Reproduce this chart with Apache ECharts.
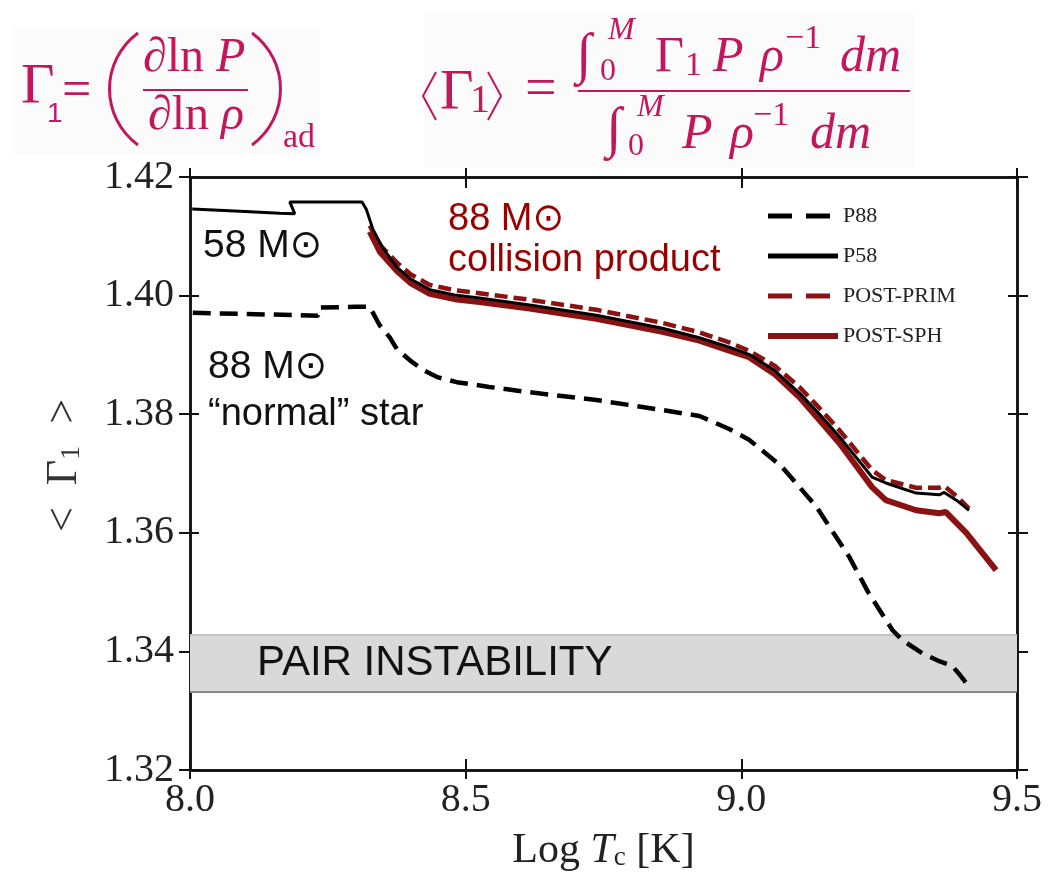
<!DOCTYPE html>
<html>
<head>
<meta charset="utf-8">
<script src="https://cdn.jsdelivr.net/npm/echarts@6/dist/echarts.min.js"></script>
<style>html,body{margin:0;background:#fff}#main{width:1048px;height:885px}</style>
</head>
<body>
<div id="main"></div>
<script>
// values: log Tc -> <Gamma_1>
var p88X = [8.005, 8.10, 8.20, 8.232, 8.235, 8.30, 8.326, 8.344, 8.362, 8.375, 8.40, 8.422, 8.45, 8.484, 8.543, 8.616, 8.737, 8.857, 8.924, 8.978, 9.014, 9.074, 9.136, 9.196, 9.23, 9.274, 9.292, 9.328, 9.36, 9.382, 9.395, 9.417];
var p88Y = [1.3971, 1.3969, 1.3967, 1.3966, 1.3980, 1.3981, 1.3981, 1.3950, 1.3930, 1.3910, 1.3890, 1.3875, 1.3862, 1.3854, 1.3846, 1.3837, 1.3824, 1.3807, 1.3797, 1.3775, 1.3757, 1.3711, 1.3644, 1.3559, 1.3500, 1.3436, 1.3419, 1.3397, 1.3383, 1.3376, 1.3362, 1.3336];

var p58X = [8.004, 8.10, 8.163, 8.190, 8.181, 8.25, 8.30, 8.312, 8.320, 8.332, 8.35, 8.375, 8.40, 8.435, 8.48, 8.525, 8.616, 8.737, 8.857, 8.924, 8.978, 9.014, 9.06, 9.105, 9.14, 9.178, 9.237, 9.262, 9.317, 9.359, 9.368, 9.39, 9.413];
var p58Y = [1.4146, 1.4142, 1.4139, 1.4138, 1.4158, 1.4158, 1.4158, 1.4158, 1.4145, 1.4111, 1.4080, 1.4048, 1.4028, 1.4010, 1.4001, 1.3996, 1.3984, 1.3967, 1.3945, 1.3929, 1.3913, 1.3901, 1.3874, 1.3836, 1.3802, 1.3762, 1.3694, 1.3684, 1.3667, 1.3664, 1.3668, 1.3655, 1.3638];

var primX = [8.326, 8.345, 8.375, 8.40, 8.435, 8.48, 8.525, 8.616, 8.737, 8.857, 8.924, 8.978, 9.014, 9.06, 9.105, 9.14, 9.178, 9.237, 9.262, 9.317, 9.359, 9.368, 9.39, 9.413];
var primY = [1.4118, 1.4085, 1.4056, 1.4036, 1.4018, 1.4009, 1.4004, 1.3993, 1.3976, 1.3954, 1.3938, 1.3921, 1.3907, 1.3882, 1.3846, 1.3812, 1.3773, 1.3706, 1.3689, 1.3676, 1.3676, 1.3679, 1.3662, 1.3641];

var sphX = [8.326, 8.345, 8.375, 8.40, 8.435, 8.48, 8.525, 8.616, 8.737, 8.857, 8.924, 8.978, 9.014, 9.06, 9.105, 9.14, 9.178, 9.237, 9.262, 9.317, 9.359, 9.371, 9.408, 9.437, 9.462];
var sphY = [1.4108, 1.4073, 1.4042, 1.4021, 1.4003, 1.3994, 1.3989, 1.3978, 1.3961, 1.3939, 1.3924, 1.3907, 1.3896, 1.3868, 1.3829, 1.3792, 1.3751, 1.3677, 1.3655, 1.3638, 1.3633, 1.3635, 1.3600, 1.3566, 1.3537];

var pairBand = [1.3332, 1.3428];
var seriesNames = ['P88', 'P58', 'POST-PRIM', 'POST-SPH'];

var red = '#8b1212';
var pink = '#c2185b';
var serif = '"Liberation Serif", "DejaVu Serif", serif';
var sans = '"Liberation Sans", "DejaVu Sans", sans-serif';

function pairs(xs, ys) {
  return xs.map(function (x, i) { return [x, ys[i]]; });
}

var chart = echarts.init(document.getElementById('main'));

function xAx(pos, inside, len, main) {
  return {
    type: 'value', position: pos, min: 8.0, max: 9.5, interval: 0.5,
    axisLine: { show: true, onZero: false, lineStyle: { color: '#111', width: 2.5 } },
    axisTick: { show: true, inside: inside, length: len, lineStyle: { color: '#111', width: 2 } },
    axisLabel: { show: main, margin: 10, fontFamily: serif, fontSize: 40, color: '#222',
      formatter: function (v) { return v.toFixed(1); } },
    splitLine: { show: false },
    name: main ? '{a|Log }{i|T}{s|c}{a| [K]}' : '',
    nameLocation: 'middle', nameGap: 60,
    nameTextStyle: { rich: {
      a: { fontFamily: serif, fontSize: 42, color: '#222' },
      i: { fontFamily: serif, fontSize: 42, fontStyle: 'italic', color: '#222' },
      s: { fontFamily: serif, fontSize: 27, color: '#222', padding: [14, 0, 0, 0] }
    } }
  };
}
function yAx(pos, inside, len, main) {
  return {
    type: 'value', position: pos, min: 1.32, max: 1.42, interval: 0.02,
    axisLine: { show: true, onZero: false, lineStyle: { color: '#111', width: 2.5 } },
    axisTick: { show: true, inside: inside, length: len, lineStyle: { color: '#111', width: 2 } },
    axisLabel: { show: main, margin: 16, fontFamily: serif, fontSize: 40, color: '#222',
      formatter: function (v) { return v.toFixed(2); } },
    splitLine: { show: false },
    name: main ? '{a|<  Γ}{s|1}{a|  >}' : '',
    nameLocation: 'middle', nameGap: 104,
    nameTextStyle: { padding: [0, 0, 0, 16], rich: {
      a: { fontFamily: serif, fontSize: 44, color: '#333' },
      s: { fontFamily: serif, fontSize: 28, color: '#333', padding: [16, 0, 0, 0] }
    } }
  };
}

function t(x, y, s, size, opt) {
  opt = opt || {};
  return { type: 'text', x: x, y: y, z: 20, style: {
    text: s, fill: opt.fill || pink, fontSize: size,
    fontFamily: opt.family || serif, fontStyle: opt.italic ? 'italic' : 'normal',
    align: 'left', verticalAlign: 'middle' } };
}
function seg(x1, y1, x2, y2, w) {
  return { type: 'line', z: 20, shape: { x1: x1, y1: y1, x2: x2, y2: y2 }, style: { stroke: pink, lineWidth: w || 2 } };
}
function curve(x1, y1, cx, x2, y2) {
  return { type: 'bezierCurve', z: 20,
    shape: { x1: x1, y1: y1, cpx1: cx, cpy1: y1 + (y2 - y1) * 0.25, cpx2: cx, cpy2: y1 + (y2 - y1) * 0.75, x2: x2, y2: y2 },
    style: { stroke: pink, lineWidth: 3, fill: null } };
}
function poly(pts) {
  return { type: 'polyline', z: 20, shape: { points: pts }, style: { stroke: pink, lineWidth: 2, fill: null } };
}

var formula = [
  { type: 'rect', z: 1, shape: { x: 12, y: 28, width: 308, height: 126 }, style: { fill: '#fbfbfb' } },
  { type: 'rect', z: 1, shape: { x: 424, y: 12, width: 490, height: 156 }, style: { fill: '#fbfbfb' } },
  // Gamma_1 = ( dlnP / dln rho )_ad
  t(21, 88, 'Γ', 58),
  t(47, 114, '1', 28, { family: sans, fill: '#c0187a' }),
  t(62, 92, '=', 52),
  curve(138, 33, 100, 138, 145),
  { type: 'text', x: 143, y: 58, z: 20, style: { text: '{i|∂}{r|ln }{i|P}', align: 'left', verticalAlign: 'middle',
    rich: { i: { fontFamily: serif, fontSize: 48, fontStyle: 'italic', fill: pink }, r: { fontFamily: serif, fontSize: 48, fill: pink } } } },
  seg(143, 90, 248, 90, 2),
  { type: 'text', x: 148, y: 116, z: 20, style: { text: '{i|∂}{r|ln }{i|ρ}', align: 'left', verticalAlign: 'middle',
    rich: { i: { fontFamily: serif, fontSize: 48, fontStyle: 'italic', fill: pink }, r: { fontFamily: serif, fontSize: 48, fill: pink } } } },
  curve(252, 33, 290, 252, 145),
  t(283, 138, 'ad', 34),
  // <Gamma_1> = int Gamma_1 P rho^-1 dm / int P rho^-1 dm
  poly([[436, 72], [423, 96], [436, 120]]),
  t(440, 94, 'Γ', 58),
  t(470, 101, '1', 40),
  poly([[488, 72], [501, 96], [488, 120]]),
  t(525, 91, '=', 56),
  seg(578, 91, 910, 91, 2),
  t(576, 57, '∫', 56, { italic: true }),
  t(608, 31, 'M', 32, { italic: true }),
  t(600, 72, '0', 32),
  t(655, 58, 'Γ', 50),
  t(685, 66, '1', 34),
  t(713, 58, 'P', 50, { italic: true }),
  t(760, 58, 'ρ', 50, { italic: true }),
  t(785, 39, '−1', 34),
  t(840, 58, 'dm', 50, { italic: true }),
  t(606, 131, '∫', 56, { italic: true }),
  t(637, 108, 'M', 32, { italic: true }),
  t(628, 147, '0', 32),
  t(682, 135, 'P', 50, { italic: true }),
  t(730, 135, 'ρ', 50, { italic: true }),
  t(753, 116, '−1', 34),
  t(810, 135, 'dm', 50, { italic: true })
];

var notes = [
  t(203, 246, '58 M⊙', 39, { family: sans, fill: '#111' }),
  t(448, 220, '88 M⊙', 38, { family: sans, fill: '#990000' }),
  t(448, 261, 'collision product', 38, { family: sans, fill: '#990000' }),
  t(208, 367, '88 M⊙', 39, { family: sans, fill: '#111' }),
  t(208, 415, '“normal” star', 38, { family: sans, fill: '#111' }),
  t(257, 663, 'PAIR INSTABILITY', 42, { family: sans, fill: '#111' })
];

var option = {
  animation: false,
  backgroundColor: '#fff',
  grid: { left: 190, right: 31, top: 177, bottom: 115 },
  xAxis: [xAx('bottom', false, 9, true), xAx('bottom', true, 11, false), xAx('top', true, 11, false), xAx('top', false, 9, false)],
  yAxis: [yAx('left', false, 11, true), yAx('left', true, 9, false), yAx('right', true, 9, false), yAx('right', false, 11, false)],
  legend: {
    orient: 'vertical', left: 760, top: 200,
    itemWidth: 70, itemHeight: 20, itemGap: 18,
    textStyle: { fontFamily: serif, fontSize: 22, color: '#222', lineHeight: 20 },
    itemStyle: { opacity: 0 },
    lineStyle: { width: 5 },
    data: [
      { name: 'P88', itemStyle: { opacity: 0 }, lineStyle: { type: [24, 14], width: 5 } },
      { name: 'P58', itemStyle: { opacity: 0 }, lineStyle: { type: 'solid', width: 5 } },
      { name: 'POST-PRIM', itemStyle: { opacity: 0 }, lineStyle: { type: [24, 14], width: 5 } },
      { name: 'POST-SPH', itemStyle: { opacity: 0 }, lineStyle: { type: 'solid', width: 6 } }
    ]
  },
  graphic: formula.concat(notes),
  series: [
    {
      name: 'band', type: 'line', data: [], z: 1, silent: true,
      markArea: { silent: true, itemStyle: { color: '#d9d9d9' },
        data: [[{ yAxis: pairBand[0] }, { yAxis: pairBand[1] }]] },
      markLine: { silent: true, symbol: 'none', precision: 4, label: { show: false },
        data: [
          { yAxis: pairBand[1], lineStyle: { color: '#c4c4c4', width: 2, type: 'solid' } },
          { yAxis: pairBand[0], lineStyle: { color: '#8a8a8a', width: 2, type: 'solid' } }
        ] }
    },
    { name: seriesNames[0], type: 'line', z: 5, symbol: 'none', data: pairs(p88X, p88Y),
      lineStyle: { color: '#000', width: 4.5, type: [18, 9] }, itemStyle: { color: '#000' } },
    { name: seriesNames[3], type: 'line', z: 3, symbol: 'none', data: pairs(sphX, sphY),
      lineStyle: { color: red, width: 6 }, itemStyle: { color: red } },
    { name: seriesNames[2], type: 'line', z: 4, symbol: 'none', data: pairs(primX, primY),
      lineStyle: { color: red, width: 4.5, type: [13, 6] }, itemStyle: { color: red } },
    { name: seriesNames[1], type: 'line', z: 6, symbol: 'none', data: pairs(p58X, p58Y),
      lineStyle: { color: '#000', width: 3 }, itemStyle: { color: '#000' } }
  ]
};
chart.setOption(option);
</script>
</body>
</html>
